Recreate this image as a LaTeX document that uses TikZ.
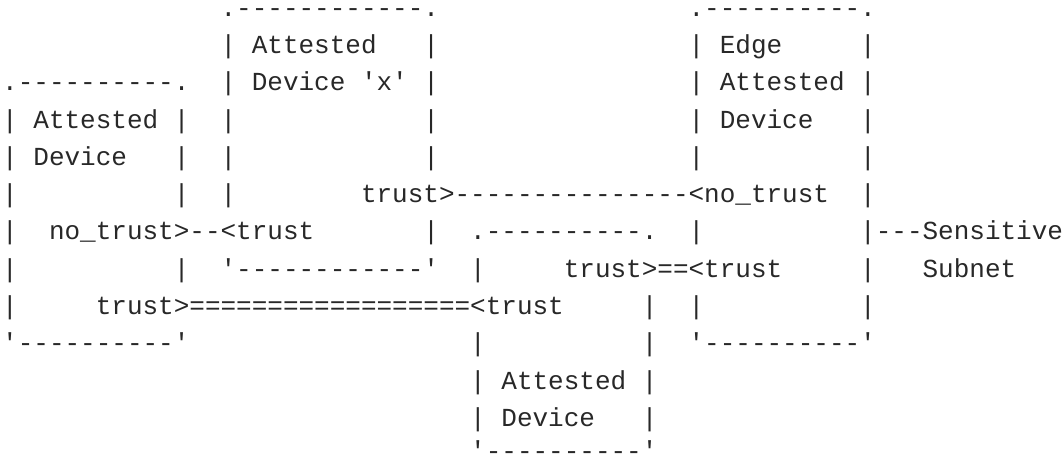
\documentclass[tikz,border=0pt]{standalone}
\usepackage{fontspec}
\setmonofont{Liberation Mono}
\definecolor{ink}{RGB}{40,40,40}
\tikzset{asc/.style={anchor=base west, inner sep=0pt, outer sep=0pt,
  font=\ttfamily\fontsize{26}{30}\selectfont, text=ink},
  topline/.style={text height=10pt}}
% name, column, line, text
\newcommand\tx[5][]{\node[asc,#1] (#2) at (2.2+15.6*#3, 438.5-37.25*#4) {#5};}
\begin{document}
\begin{tikzpicture}[x=1pt,y=1pt]
\path[use as bounding box] (0,0) rectangle (1064,455);
\fill[white] (0,0) rectangle (1064,455);
\clip (0,0) rectangle (1064,455);
% line 0
\tx[topline]{a0}{14}{0}{.------------.}
\tx[topline]{b0}{44}{0}{.----------.}
% line 1
\tx{a1}{14}{1}{|~Attested~~~|}
\tx{b1}{44}{1}{|~Edge~~~~~|}
% line 2
\tx{c2}{0}{2}{.----------.}
\tx{a2}{14}{2}{|~Device~'x'~|}
\tx{b2}{44}{2}{|~Attested~|}
% line 3
\tx{c3}{0}{3}{|~Attested~|}
\tx{a3l}{14}{3}{|}
\tx{a3r}{27}{3}{|}
\tx{b3}{44}{3}{|~Device~~~|}
% line 4
\tx{c4}{0}{4}{|~Device~~~|}
\tx{a4l}{14}{4}{|}
\tx{a4r}{27}{4}{|}
\tx{b4l}{44}{4}{|}
\tx{b4r}{55}{4}{|}
% line 5
\tx{c5l}{0}{5}{|}
\tx{c5r}{11}{5}{|}
\tx{a5l}{14}{5}{|}
\tx{t5}{23}{5}{trust>---------------<no\_trust}
\tx{b5r}{55}{5}{|}
% line 6
\tx{c6l}{0}{6}{|}
\tx{t6}{3}{6}{no\_trust>--<trust}
\tx{a6r}{27}{6}{|}
\tx{d6}{30}{6}{.----------.}
\tx{b6l}{44}{6}{|}
\tx{s6}{55}{6}{|---Sensitive}
% line 7
\tx{c7l}{0}{7}{|}
\tx{c7r}{11}{7}{|}
\tx{a7}{14}{7}{'------------'}
\tx{d7l}{30}{7}{|}
\tx{t7}{36}{7}{trust>==<trust}
\tx{b7r}{55}{7}{|}
\tx{s7}{59}{7}{Subnet}
% line 8
\tx{c8l}{0}{8}{|}
\tx{t8}{6}{8}{trust>==================<trust}
\tx{d8r}{41}{8}{|}
\tx{b8l}{44}{8}{|}
\tx{b8r}{55}{8}{|}
% line 9
\tx{c9}{0}{9}{'----------'}
\tx{d9l}{30}{9}{|}
\tx{d9r}{41}{9}{|}
\tx{b9}{44}{9}{'----------'}
% lines 10-12
\tx{d10}{30}{10}{|~Attested~|}
\tx{d11}{30}{11}{|~Device~~~|}
\node[asc] (d12) at (2.2+15.6*30, -4) {'----------'};
\end{tikzpicture}
\end{document}
